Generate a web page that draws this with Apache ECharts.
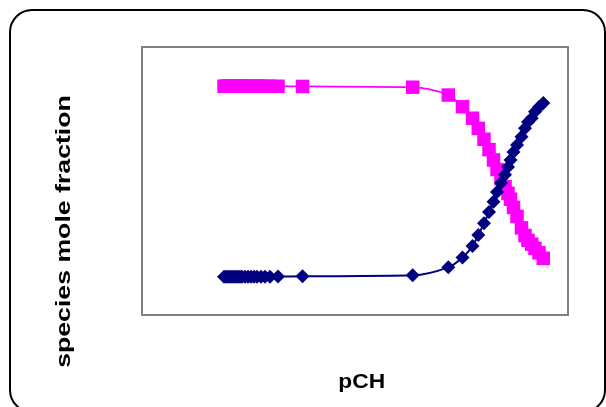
<!DOCTYPE html>
<html>
<head>
<meta charset="utf-8">
<script src="https://cdn.jsdelivr.net/npm/echarts@6/dist/echarts.min.js"></script>
<style>
html,body{margin:0;padding:0;background:#fff;}
#chart{width:606px;height:407px;}
</style>
</head>
<body>
<div id="chart"></div>
<script>
// pCH values (x)
var pCH = [2.695, 2.761, 2.826, 2.892, 2.958, 3.023, 3.089, 3.155, 3.221, 3.286,
  3.385, 3.484, 3.582, 3.681, 3.779, 3.911, 4.042, 4.207, 4.469, 5.275,
  8.896, 10.066, 10.533, 10.862, 11.052, 11.239, 11.404, 11.552, 11.667, 11.798,
  11.930, 12.028, 12.110, 12.209, 12.324, 12.472, 12.587, 12.685, 12.807, 12.915,
  13.047, 13.188];
// species mole fraction, magenta squares
var speciesA = [0.995, 0.995, 0.995, 0.995, 0.995, 0.995, 0.995, 0.995, 0.995, 0.995,
  0.995, 0.995, 0.995, 0.995, 0.995, 0.995, 0.995, 0.995, 0.995, 0.994,
  0.990, 0.949, 0.888, 0.828, 0.775, 0.718, 0.664, 0.610, 0.560, 0.512,
  0.470, 0.435, 0.405, 0.362, 0.315, 0.255, 0.215, 0.190, 0.170, 0.148,
  0.125, 0.096];
// species mole fraction, navy diamonds
var speciesB = [0.000, 0.000, 0.000, 0.000, 0.000, 0.000, 0.000, 0.000, 0.000, 0.000,
  0.000, 0.000, 0.000, 0.000, 0.000, 0.000, 0.000, 0.000, 0.001, 0.002,
  0.007, 0.049, 0.101, 0.160, 0.218, 0.279, 0.338, 0.392, 0.443, 0.490,
  0.532, 0.573, 0.610, 0.652, 0.688, 0.731, 0.775, 0.808, 0.828, 0.862,
  0.887, 0.907];
var xTitle = 'pCH';
var yTitle = 'species mole fraction';

function pairs(xs, ys){ return xs.map(function(x,i){ return [x, ys[i]]; }); }

var chart = echarts.init(document.getElementById('chart'), null, {renderer:'canvas'});
chart.setOption({
  animation: false,
  backgroundColor: '#ffffff',
  grid: {left:142, top:47, right:38, bottom:92, show:true, borderColor:'#808080', borderWidth:2, backgroundColor:'#ffffff'},
  xAxis: {type:'value', min:0, max:14, axisLine:{show:false}, axisTick:{show:false}, axisLabel:{show:false}, splitLine:{show:false}},
  yAxis: {type:'value', min:-0.2, max:1.2, axisLine:{show:false}, axisTick:{show:false}, axisLabel:{show:false}, splitLine:{show:false}},
  series: [
    {type:'line', data:pairs(pCH, speciesA), smooth:0.3, symbol:'rect', symbolSize:13.5,
     lineStyle:{color:'#FF00FF', width:1.8}, itemStyle:{color:'#FF00FF'}, z:2},
    {type:'line', data:pairs(pCH, speciesB), smooth:0.3, symbol:'diamond', symbolSize:[14,14],
     lineStyle:{color:'#000080', width:2}, itemStyle:{color:'#000080'}, z:3}
  ],
  graphic: [
    {type:'rect', shape:{x:10, y:10, width:595, height:402, r:22}, style:{fill:'none', stroke:'#000', lineWidth:2}, z:10},
    {type:'text', x:64, y:231.5, rotation:Math.PI/2, scaleX:1.27, scaleY:1,
     style:{text:yTitle, font:'bold 21px "Liberation Sans", Arial, sans-serif', fill:'#000', textAlign:'center', textVerticalAlign:'middle'}, z:10},
    {type:'text', x:361.7, y:382, scaleX:1.14, scaleY:1,
     style:{text:xTitle, font:'bold 20px "Liberation Sans", Arial, sans-serif', fill:'#000', textAlign:'center', textVerticalAlign:'middle'}, z:10}
  ]
});
</script>
</body>
</html>
